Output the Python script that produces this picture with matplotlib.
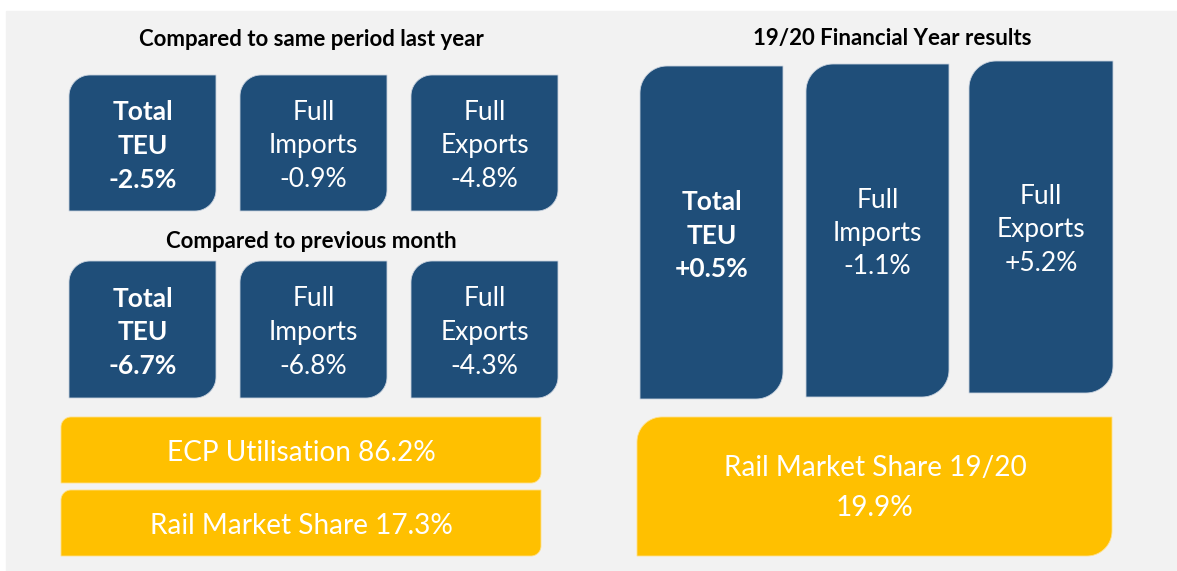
import matplotlib.pyplot as plt
import numpy as np
from matplotlib.patches import Polygon, Rectangle

# ---------------- data ----------------
section_titles = ["Compared to same period last year",
                  "Compared to previous month",
                  "19/20 Financial Year results"]

box_labels = [["Total", "TEU"], ["Full", "Imports"], ["Full", "Exports"]]
last_year = ["-2.5%", "-0.9%", "-4.8%"]
prev_month = ["-6.7%", "-6.8%", "-4.3%"]
fy_results = ["+0.5%", "-1.1%", "+5.2%"]

ecp_utilisation = "86.2%"
rail_share_month = "17.3%"
rail_share_fy = "19.9%"

BLUE = "#1F4E79"
YELLOW = "#FFC000"
BG = "#F2F2F2"

plt.rcParams["font.family"] = ["Lato", "DejaVu Sans"]

W, H = 1177, 571
fig = plt.figure(figsize=(W / 100, H / 100), dpi=100)
ax = fig.add_axes([0, 0, 1, 1])
ax.set_xlim(0, W)
ax.set_ylim(H, 0)
ax.axis("off")

ax.add_patch(Rectangle((6, 11), W - 6, H - 11, color=BG, zorder=0))


def round_box(x0, y0, x1, y1, r, color):
    # top-left and bottom-right corners rounded (y grows downward)
    t1 = np.linspace(np.pi, 1.5 * np.pi, 20)
    t2 = np.linspace(0, 0.5 * np.pi, 20)
    tl = np.c_[x0 + r + r * np.cos(t1), y0 + r + r * np.sin(t1)]
    br = np.c_[x1 - r + r * np.cos(t2), y1 - r + r * np.sin(t2)]
    pts = np.vstack([tl, [[x1, y0]], br, [[x0, y1]]])
    ax.add_patch(Polygon(pts, closed=True, facecolor=color,
                         edgecolor="#c8d2de" if color == BLUE else "#ffe08a",
                         lw=0.6, zorder=2))


def box_text(cx, cy, lines, bold, size=19, step=33.5):
    n = len(lines)
    for i, s in enumerate(lines):
        ax.text(cx, cy + 3 + (i - (n - 1) / 2) * step, s, color="white",
                fontsize=size, ha="center", va="center",
                fontweight="bold" if bold else "normal", zorder=3)


# section titles
ax.text(311, 39, section_titles[0], fontsize=16, fontweight="bold", ha="center", va="center")
ax.text(311, 242, section_titles[1], fontsize=16, fontweight="bold", ha="center", va="center")
ax.text(892, 39, section_titles[2], fontsize=16, fontweight="bold", ha="center", va="center")

# small boxes (left)
small_x = [(69, 216), (240, 387), (411, 558)]
rows = [((75, 211), last_year), ((261, 398), prev_month)]
for (y0, y1), vals in rows:
    for i, (x0, x1) in enumerate(small_x):
        round_box(x0, y0, x1, y1, 21, BLUE)
        box_text((x0 + x1) / 2, (y0 + y1) / 2, box_labels[i] + [vals[i]], bold=(i == 0))

# tall boxes (right)
tall = [(640, 783, 66, 399), (806, 949, 64, 397), (969, 1113, 61, 393)]
for i, (x0, x1, y0, y1) in enumerate(tall):
    round_box(x0, y0, x1, y1, 27, BLUE)
    box_text((x0 + x1) / 2, (y0 + y1) / 2, box_labels[i] + [fy_results[i]], bold=(i == 0))

# yellow boxes
round_box(61, 417, 541, 483, 10, YELLOW)
box_text(301, 450, ["ECP Utilisation " + ecp_utilisation], bold=False, size=20.2)
round_box(61, 490, 541, 556, 10, YELLOW)
box_text(301, 523, ["Rail Market Share " + rail_share_month], bold=False, size=20.2)
round_box(637, 417, 1112, 556, 25, YELLOW)
box_text(875, 485, ["Rail Market Share 19/20", rail_share_fy], bold=False, size=20.2, step=39)

fig.savefig("out.png", dpi=100)
